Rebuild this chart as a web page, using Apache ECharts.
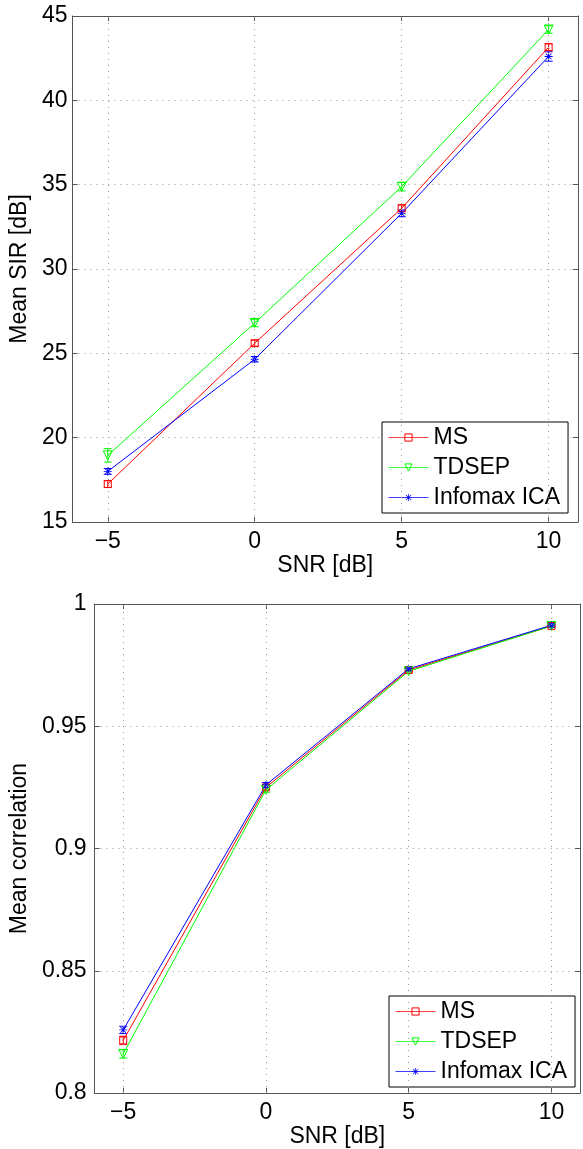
<!DOCTYPE html>
<html>
<head>
<meta charset="utf-8">
<script src="https://cdn.jsdelivr.net/npm/echarts@6/dist/echarts.min.js"></script>
<style>
  html, body { margin: 0; padding: 0; background: #fff; }
  #chart { width: 583px; height: 1149px; }
</style>
</head>
<body>
<div id="chart"></div>
<script>
// SNR levels on the x axis
const snr = [-5, 0, 5, 10];
const xTicks = [-5, 0, 5, 10];
const seriesNames = ['MS', 'TDSEP', 'Infomax ICA'];

// Mean SIR [dB] per method, with error half-widths
const sirMS = [17.25, 25.6, 33.6, 43.15];
const sirTDSEP = [18.95, 26.8, 34.88, 44.2];
const sirInfomax = [18.0, 24.65, 33.3, 42.6];
const sirErrMS = [0.2, 0.18, 0.2, 0.2];
const sirErrTDSEP = [0.4, 0.22, 0.25, 0.22];
const sirErrInfomax = [0.17, 0.16, 0.2, 0.28];

// Mean correlation per method, with error half-widths
const corrMS = [0.8215, 0.925, 0.973, 0.991];
const corrTDSEP = [0.816, 0.924, 0.9725, 0.991];
const corrInfomax = [0.8258, 0.926, 0.9735, 0.9913];
const corrErrMS = [0.0017, 0.001, 0.0008, 0.0006];
const corrErrTDSEP = [0.0017, 0.001, 0.0008, 0.0006];
const corrErrInfomax = [0.0015, 0.001, 0.0008, 0.0006];

const FONT = 'Liberation Sans, Arial, Helvetica, sans-serif';
const FS = 23;
const colors = ['#ff0000', '#00ff00', '#0000ff'];
const frameColor = '#555';
const gridDots = { color: '#999', type: [1, 5], width: 1 };
const asterisk = 'path://M-0.5,-5 L0.5,-5 L0.5,5 L-0.5,5 Z M-5,-0.5 L5,-0.5 L5,0.5 L-5,0.5 Z ' +
  'M-3.9,-3.2 L-3.2,-3.9 L3.9,3.2 L3.2,3.9 Z M3.2,-3.9 L3.9,-3.2 L-3.2,3.9 L-3.9,3.2 Z';
const markers = [
  { symbol: 'rect', size: 7, rotate: 0, fill: 'rgba(0,0,0,0)', border: 1 },
  { symbol: 'triangle', size: 9, rotate: 180, fill: 'rgba(0,0,0,0)', border: 1 },
  { symbol: asterisk, size: 8, rotate: 0, fill: '#0000ff', border: 0 }
];

const minus = v => String(v).replace('-', '\u2212');

function bottomX(gridIndex, min, max) {
  return {
    type: 'value', gridIndex, min, max, position: 'bottom',
    name: 'SNR [dB]', nameLocation: 'middle', nameGap: 30,
    nameTextStyle: { fontFamily: FONT, fontSize: FS, color: '#000' },
    axisLine: { show: true, onZero: false, lineStyle: { color: frameColor, width: 1 } },
    axisTick: { show: true, inside: true, length: 5, customValues: xTicks, lineStyle: { color: frameColor } },
    axisLabel: { customValues: xTicks, formatter: minus, fontFamily: FONT, fontSize: FS, color: '#000', margin: 8 },
    splitLine: { show: false }
  };
}
function topX(gridIndex, min, max) {
  return {
    type: 'value', gridIndex, min, max, position: 'top',
    axisLine: { show: true, onZero: false, lineStyle: { color: frameColor, width: 1 } },
    axisTick: { show: true, inside: true, length: 5, customValues: xTicks, lineStyle: { color: frameColor } },
    axisLabel: { show: false },
    splitLine: { show: false }
  };
}
function leftY(gridIndex, min, max, interval, name, nameGap, margin) {
  return {
    type: 'value', gridIndex, min, max, interval, position: 'left',
    name, nameLocation: 'middle', nameGap,
    nameTextStyle: { fontFamily: FONT, fontSize: FS, color: '#000' },
    axisLine: { show: true, onZero: false, lineStyle: { color: frameColor, width: 1 } },
    axisTick: { show: true, inside: true, length: 5, lineStyle: { color: frameColor } },
    axisLabel: { fontFamily: FONT, fontSize: FS, color: '#000', margin },
    splitLine: { show: true, lineStyle: gridDots }
  };
}
function rightY(gridIndex, min, max, interval) {
  return {
    type: 'value', gridIndex, min, max, interval, position: 'right',
    axisLine: { show: true, onZero: false, lineStyle: { color: frameColor, width: 1 } },
    axisTick: { show: true, inside: true, length: 5, lineStyle: { color: frameColor } },
    axisLabel: { show: false },
    splitLine: { show: false }
  };
}

function lineSeries(i, values, xIdx, yIdx) {
  const m = markers[i];
  return {
    type: 'line', name: seriesNames[i], xAxisIndex: xIdx, yAxisIndex: yIdx,
    data: snr.map((x, k) => [x, values[k]]),
    symbol: m.symbol, symbolSize: m.size, symbolRotate: m.rotate,
    showAllSymbol: true, z: 4,
    lineStyle: { color: colors[i], width: 1 },
    itemStyle: { color: m.fill, borderColor: colors[i], borderWidth: m.border },
    emphasis: { disabled: true }, animation: false
  };
}

function errorSeries(i, values, errs, xIdx, yIdx) {
  return {
    type: 'custom', xAxisIndex: xIdx, yAxisIndex: yIdx, z: 3, silent: true,
    data: snr.map((x, k) => [x, values[k] - errs[k], values[k] + errs[k]]),
    encode: { x: 0, y: [1, 2] },
    renderItem: (params, api) => {
      const lo = api.coord([api.value(0), api.value(1)]);
      const hi = api.coord([api.value(0), api.value(2)]);
      const w = 4;
      const style = { stroke: colors[i], lineWidth: 1 };
      return {
        type: 'group',
        children: [
          { type: 'line', shape: { x1: lo[0], y1: lo[1], x2: hi[0], y2: hi[1] }, style },
          { type: 'line', shape: { x1: lo[0] - w, y1: lo[1], x2: lo[0] + w, y2: lo[1] }, style },
          { type: 'line', shape: { x1: hi[0] - w, y1: hi[1], x2: hi[0] + w, y2: hi[1] }, style }
        ]
      };
    },
    animation: false
  };
}

function gridLines(xIdx, yIdx) {
  return {
    type: 'line', xAxisIndex: xIdx, yAxisIndex: yIdx, data: [], z: 1, silent: true,
    markLine: {
      silent: true, symbol: 'none', label: { show: false }, animation: false,
      lineStyle: gridDots,
      emphasis: { disabled: true },
      data: xTicks.map(v => ({ xAxis: v }))
    }
  };
}

function legend(left, top) {
  return {
    orient: 'vertical', left, top,
    data: seriesNames.map((name, i) => ({
      name,
      lineStyle: { color: colors[i], width: 1, opacity: 0.75 },
      itemStyle: { color: markers[i].fill, borderColor: colors[i], borderWidth: markers[i].border }
    })),
    backgroundColor: '#fff', borderColor: '#000', borderWidth: 1,
    padding: [4, 8, 4, 6], itemGap: 7, itemWidth: 40, itemHeight: 9,
    textStyle: { fontFamily: FONT, fontSize: FS, color: '#000' },
    selectedMode: false
  };
}

const sirVals = [sirMS, sirTDSEP, sirInfomax];
const sirErrs = [sirErrMS, sirErrTDSEP, sirErrInfomax];
const corrVals = [corrMS, corrTDSEP, corrInfomax];
const corrErrs = [corrErrMS, corrErrTDSEP, corrErrInfomax];

const series = [gridLines(0, 0), gridLines(2, 2)];
for (let i = 0; i < 3; i++) {
  series.push(errorSeries(i, sirVals[i], sirErrs[i], 0, 0));
  series.push(lineSeries(i, sirVals[i], 0, 0));
}
for (let i = 0; i < 3; i++) {
  series.push(errorSeries(i, corrVals[i], corrErrs[i], 2, 2));
  series.push(lineSeries(i, corrVals[i], 2, 2));
}

const option = {
  backgroundColor: '#fff',
  animation: false,
  grid: [
    { left: 67, top: 16, right: 5, height: 506 },
    { left: 91, top: 604, right: 3, height: 489 }
  ],
  xAxis: [
    bottomX(0, -6.2, 11), topX(0, -6.2, 11),
    bottomX(1, -6, 11), topX(1, -6, 11)
  ],
  yAxis: [
    leftY(0, 15, 45, 5, 'Mean SIR [dB]', 35, 5), rightY(0, 15, 45, 5),
    leftY(1, 0.8, 1, 0.05, 'Mean correlation', 59, 8), rightY(1, 0.8, 1, 0.05)
  ],
  legend: [legend(382, 422), legend(389, 996)],
  series
};

const chart = echarts.init(document.getElementById('chart'), null, { renderer: 'canvas' });
chart.setOption(option);
</script>
</body>
</html>
